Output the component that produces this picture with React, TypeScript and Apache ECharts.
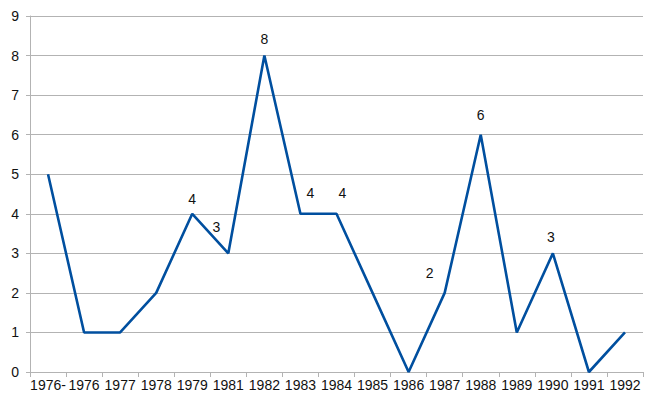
import React, { useEffect, useRef } from "react";
import * as echarts from "echarts";

const categories = ["1976-", "1976", "1977", "1978", "1979", "1981", "1982", "1983", "1984", "1985", "1986", "1987", "1988", "1989", "1990", "1991", "1992"];
const values = [5, 1, 1, 2, 4, 3, 8, 4, 4, 2, 0, 2, 6, 1, 3, 0, 1];
// which points carry a value label, and the label's nudge from the point
const labelled = [false, false, false, false, true, true, true, true, true, false, false, true, true, false, true, false, false];
const labelNudge: number[][] = [[0, 0], [0, 0], [0, 0], [0, 0], [0, -15], [-12, -26], [0, -17], [10, -21], [6, -21], [0, 0], [0, 0], [-15, -20], [0, -20], [0, 0], [-2, -16], [0, 0], [0, 0]];
const yTicks = { min: 0, max: 9, interval: 1 };

export default function App() {
  const ref = useRef<HTMLDivElement>(null);
  useEffect(() => {
    const chart = echarts.init(ref.current!, undefined, { renderer: "svg" });
    const font = "'Liberation Sans', Arial, sans-serif";
    chart.setOption({
      animation: false,
      backgroundColor: "#ffffff",
      grid: { left: 30, right: 16, top: 16, bottom: 34, containLabel: false },
      xAxis: {
        type: "category",
        data: categories,
        boundaryGap: true,
        axisLine: { lineStyle: { color: "#b3b3b3", width: 1 } },
        axisTick: { show: true, alignWithLabel: false, length: 5, lineStyle: { color: "#b3b3b3" } },
        axisLabel: { color: "#111", fontSize: 14, fontFamily: font, margin: 6, interval: 0 },
        splitLine: { show: false },
      },
      yAxis: {
        type: "value",
        min: yTicks.min,
        max: yTicks.max,
        interval: yTicks.interval,
        axisLine: { show: true, lineStyle: { color: "#b3b3b3", width: 1 } },
        axisTick: { show: true, length: 4, lineStyle: { color: "#b3b3b3" } },
        axisLabel: { color: "#111", fontSize: 14, fontFamily: font, margin: 11 },
        splitLine: { show: true, lineStyle: { color: "#b3b3b3", width: 1 } },
      },
      series: [
        {
          type: "line",
          data: values.map((v, i) => ({
            value: v,
            label: labelled[i]
              ? { show: true, position: "inside", offset: labelNudge[i], color: "#111", fontSize: 14, fontFamily: font }
              : { show: false },
          })),
          symbol: "circle",
          symbolSize: 1,
          showSymbol: true,
          itemStyle: { color: "rgba(0,0,0,0)" },
          lineStyle: { color: "#004f9f", width: 2.6 },
          emphasis: { disabled: true },
        },
      ],
    });
    return () => chart.dispose();
  }, []);
  return <div ref={ref} style={{ width: 659, height: 406, position: "absolute", left: 0, top: 0 }} />;
}
